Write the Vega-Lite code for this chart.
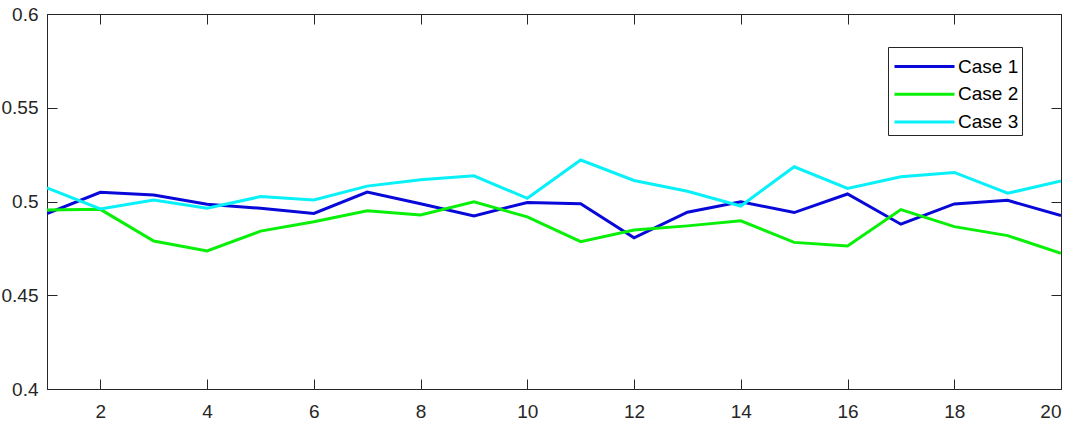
{
  "$schema": "https://vega.github.io/schema/vega-lite/v6.json",
  "width": 1014,
  "height": 375,
  "autosize": "none",
  "padding": {"left": 47, "top": 14, "right": 14, "bottom": 35},
  "background": "white",
  "config": {
    "view": {"stroke": "#262626", "strokeWidth": 1},
    "font": "Liberation Sans"
  },
  "data": {
    "values": [
      {"x": 1, "case": "Case 1", "value": 0.4935},
      {"x": 2, "case": "Case 1", "value": 0.5049},
      {"x": 3, "case": "Case 1", "value": 0.5035},
      {"x": 4, "case": "Case 1", "value": 0.4985},
      {"x": 5, "case": "Case 1", "value": 0.4964},
      {"x": 6, "case": "Case 1", "value": 0.4936},
      {"x": 7, "case": "Case 1", "value": 0.5050},
      {"x": 8, "case": "Case 1", "value": 0.4988},
      {"x": 9, "case": "Case 1", "value": 0.4923},
      {"x": 10, "case": "Case 1", "value": 0.4995},
      {"x": 11, "case": "Case 1", "value": 0.4988},
      {"x": 12, "case": "Case 1", "value": 0.4806},
      {"x": 13, "case": "Case 1", "value": 0.4943},
      {"x": 14, "case": "Case 1", "value": 0.4999},
      {"x": 15, "case": "Case 1", "value": 0.4941},
      {"x": 16, "case": "Case 1", "value": 0.5040},
      {"x": 17, "case": "Case 1", "value": 0.4879},
      {"x": 18, "case": "Case 1", "value": 0.4987},
      {"x": 19, "case": "Case 1", "value": 0.5006},
      {"x": 20, "case": "Case 1", "value": 0.4925},
      {"x": 1, "case": "Case 2", "value": 0.4954},
      {"x": 2, "case": "Case 2", "value": 0.4958},
      {"x": 3, "case": "Case 2", "value": 0.4789},
      {"x": 4, "case": "Case 2", "value": 0.4736},
      {"x": 5, "case": "Case 2", "value": 0.4842},
      {"x": 6, "case": "Case 2", "value": 0.4892},
      {"x": 7, "case": "Case 2", "value": 0.4950},
      {"x": 8, "case": "Case 2", "value": 0.4928},
      {"x": 9, "case": "Case 2", "value": 0.4998},
      {"x": 10, "case": "Case 2", "value": 0.4918},
      {"x": 11, "case": "Case 2", "value": 0.4786},
      {"x": 12, "case": "Case 2", "value": 0.4848},
      {"x": 13, "case": "Case 2", "value": 0.4870},
      {"x": 14, "case": "Case 2", "value": 0.4897},
      {"x": 15, "case": "Case 2", "value": 0.4782},
      {"x": 16, "case": "Case 2", "value": 0.4763},
      {"x": 17, "case": "Case 2", "value": 0.4957},
      {"x": 18, "case": "Case 2", "value": 0.4866},
      {"x": 19, "case": "Case 2", "value": 0.4818},
      {"x": 20, "case": "Case 2", "value": 0.4724},
      {"x": 1, "case": "Case 3", "value": 0.5073},
      {"x": 2, "case": "Case 3", "value": 0.4960},
      {"x": 3, "case": "Case 3", "value": 0.5008},
      {"x": 4, "case": "Case 3", "value": 0.4964},
      {"x": 5, "case": "Case 3", "value": 0.5026},
      {"x": 6, "case": "Case 3", "value": 0.5008},
      {"x": 7, "case": "Case 3", "value": 0.5082},
      {"x": 8, "case": "Case 3", "value": 0.5116},
      {"x": 9, "case": "Case 3", "value": 0.5137},
      {"x": 10, "case": "Case 3", "value": 0.5017},
      {"x": 11, "case": "Case 3", "value": 0.5221},
      {"x": 12, "case": "Case 3", "value": 0.5112},
      {"x": 13, "case": "Case 3", "value": 0.5055},
      {"x": 14, "case": "Case 3", "value": 0.4976},
      {"x": 15, "case": "Case 3", "value": 0.5185},
      {"x": 16, "case": "Case 3", "value": 0.5070},
      {"x": 17, "case": "Case 3", "value": 0.5132},
      {"x": 18, "case": "Case 3", "value": 0.5155},
      {"x": 19, "case": "Case 3", "value": 0.5044},
      {"x": 20, "case": "Case 3", "value": 0.5109}
    ]
  },
  "layer": [
    {
      "mark": {"type": "line", "strokeWidth": 3, "clip": true},
      "encoding": {
        "x": {
          "field": "x", "type": "quantitative",
          "scale": {"domain": [1, 20], "nice": false, "zero": false},
          "axis": {"orient": "bottom", "values": [2, 4, 6, 8, 10, 12, 14, 16, 18, 20], "grid": false, "title": null,
                   "tickSize": -10, "labelPadding": 23, "labelFontSize": 19, "labelFont": "Liberation Sans",
                   "labelColor": "#262626", "tickColor": "#262626", "domainColor": "#262626"}
        },
        "y": {
          "field": "value", "type": "quantitative",
          "scale": {"domain": [0.4, 0.6], "nice": false, "zero": false},
          "axis": {"orient": "left", "values": [0.4, 0.45, 0.5, 0.55, 0.6], "format": "~g", "grid": false, "title": null,
                   "tickSize": -10, "labelPadding": 19, "labelFontSize": 19, "labelFont": "Liberation Sans",
                   "labelColor": "#262626", "tickColor": "#262626", "domainColor": "#262626"}
        },
        "color": {
          "field": "case", "type": "nominal",
          "scale": {"domain": ["Case 1", "Case 2", "Case 3"], "range": ["#0808d8", "#08f008", "#08f0f8"]},
          "legend": {
            "title": null,
            "orient": "none",
            "legendX": 841,
            "legendY": 33,
            "symbolType": "M-2,0H2",
            "symbolSize": 900,
            "symbolStrokeWidth": 3,
            "symbolOffset": 17,
            "labelFontSize": 19,
            "labelFont": "Liberation Sans",
            "labelColor": "#000000",
            "labelExpr": "datum.label + '\u00a0'",
            "rowPadding": 0.7,
            "labelOffset": 17,
            "strokeColor": "#262626",
            "fillColor": "white",
            "padding": 3
          }
        }
      }
    },
    {
      "mark": {"type": "line", "opacity": 0},
      "encoding": {
        "x": {
          "field": "x", "type": "quantitative",
          "axis": {"orient": "top", "values": [2, 4, 6, 8, 10, 12, 14, 16, 18, 20], "labels": false, "grid": false, "title": null,
                   "tickSize": -10, "tickColor": "#262626", "domainColor": "#262626"}
        },
        "y": {
          "field": "value", "type": "quantitative",
          "axis": {"orient": "right", "values": [0.4, 0.45, 0.5, 0.55, 0.6], "labels": false, "grid": false, "title": null,
                   "tickSize": -10, "tickColor": "#262626", "domainColor": "#262626"}
        }
      }
    }
  ],
  "resolve": {"axis": {"x": "independent", "y": "independent"}}
}
